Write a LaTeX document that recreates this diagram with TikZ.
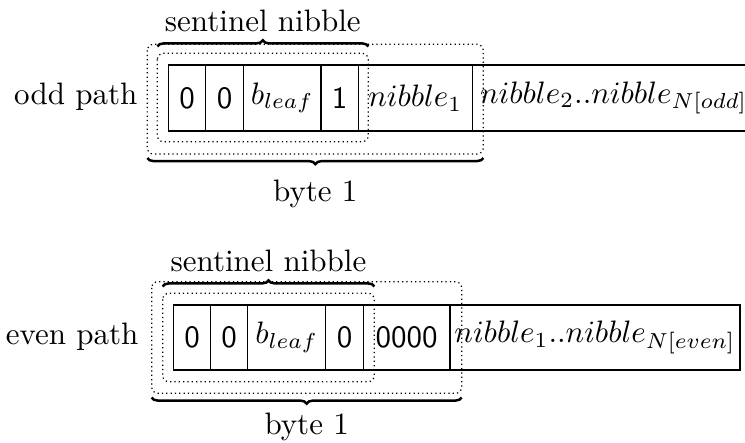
\documentclass[tikz,border=0pt]{standalone}
\usetikzlibrary{decorations.pathreplacing}
\newcommand\pxu{0.32258pt}
\tikzset{
  cell/.style={draw, line width=0.4pt, inner sep=0pt, minimum height=#1*\pxu},
  dotbox/.style={densely dotted, line width=0.4pt, rounded corners=2pt},
  bracel/.style={decorate, decoration={brace, amplitude=2pt}, thick},
  lbl/.style={anchor=base, inner sep=0pt}
}
\newcommand\mycell[6]{\node[cell=#6, minimum width={(#3-#2)*\pxu}] (#1) at ({(#2+#3)/2},#4) {#5};}
\begin{document}
\begin{tikzpicture}[x=\pxu, y=-\pxu]
\useasboundingbox (0,0) rectangle (745,443);
\clip (0,0) rectangle (745,443);

% ---------- odd path ----------
\mycell{o1}{168.3}{205.7}{98}{\textsf{0}}{66}
\mycell{o2}{205.7}{243.3}{98}{\textsf{0}}{66}
\mycell{o3}{243.3}{321}{98}{$b_{leaf}$}{66}
\mycell{o4}{321}{358.3}{98}{\textsf{1}}{66}
\mycell{o5}{358.3}{472.3}{98}{$nibble_1$}{66}
\mycell{o6}{472.3}{755}{98}{$nibble_2..nibble_{N[odd]}$}{66}

\node[lbl, anchor=base east] (oddlbl) at (138,105) {odd path};

\draw[dotbox] (157.3,53.3) rectangle (368.3,141.7);
\draw[dotbox] (147.3,44.3) rectangle (483.3,154);

\coordinate (osl) at (157.3,46.5);
\coordinate (osr) at (368.3,46.5);
\draw[bracel] (osl) -- (osr);
\node[lbl] (osent) at (262.8,31.7) {sentinel nibble};

\coordinate (obl) at (147.3,158);
\coordinate (obr) at (483.3,158);
\draw[bracel] (obr) -- (obl);
\node[lbl] (obyte) at (315.3,202) {byte 1};

% ---------- even path ----------
\mycell{e1}{173.3}{210.7}{337.5}{\textsf{0}}{65}
\mycell{e2}{210.7}{247.7}{337.5}{\textsf{0}}{65}
\mycell{e3}{247.7}{325.7}{337.5}{$b_{leaf}$}{65}
\mycell{e4}{325.7}{363.3}{337.5}{\textsf{0}}{65}
\mycell{e5}{363.3}{450}{337.5}{\textsf{0000}}{65}
\mycell{e6}{450}{740}{337.5}{$nibble_1..nibble_{N[even]}$}{65}

\node[lbl, anchor=base east] (evenlbl) at (139,345) {even path};

\draw[dotbox] (162.7,293.3) rectangle (374.3,381.7);
\draw[dotbox] (151.7,281.7) rectangle (461.7,393.3);

\coordinate (esl) at (162.7,286.5);
\coordinate (esr) at (374.3,286.5);
\draw[bracel] (esl) -- (esr);
\node[lbl] (esent) at (268.5,271.7) {sentinel nibble};

\coordinate (ebl) at (151.7,397.5);
\coordinate (ebr) at (461.7,397.5);
\draw[bracel] (ebr) -- (ebl);
\node[lbl] (ebyte) at (306.7,435) {byte 1};
\end{tikzpicture}
\end{document}
